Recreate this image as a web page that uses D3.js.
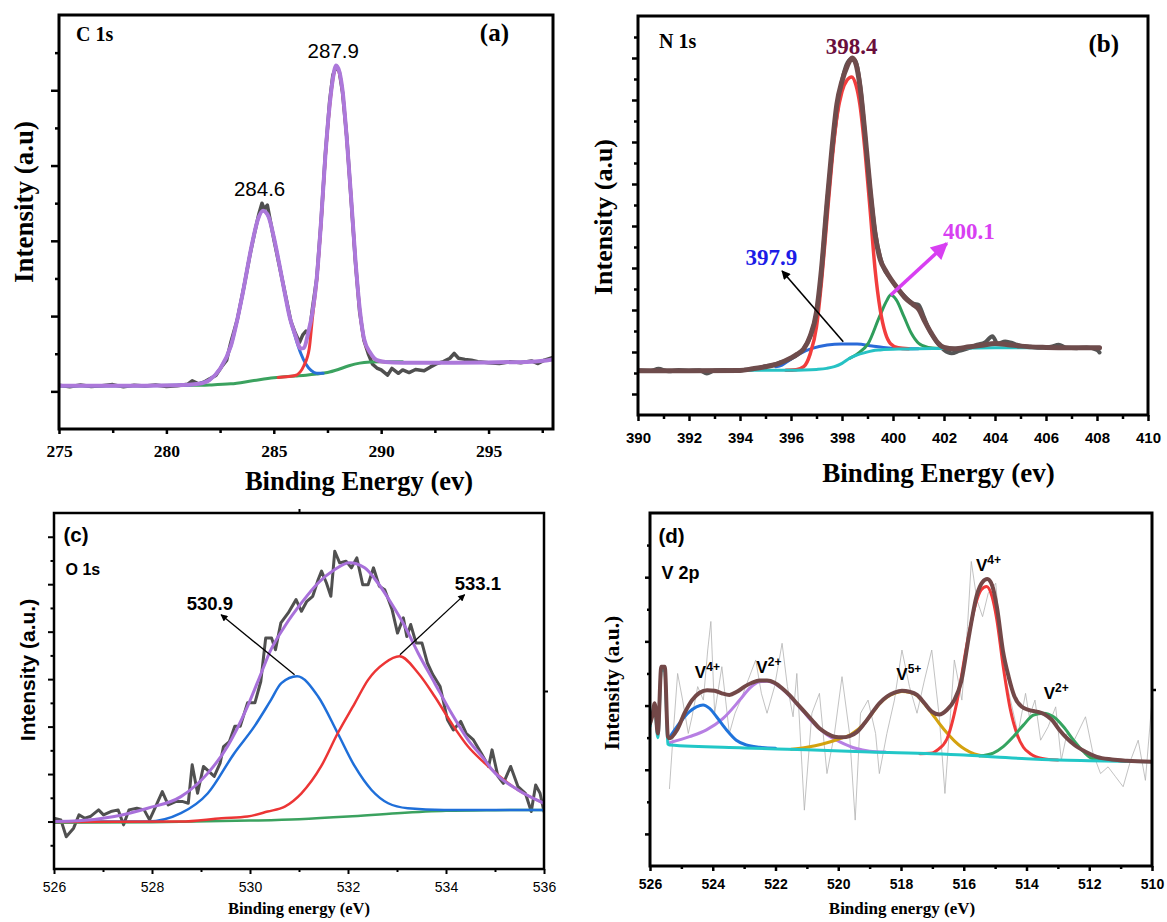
<!DOCTYPE html>
<html>
<head>
<meta charset="utf-8">
<script src="https://cdn.jsdelivr.net/npm/d3@7"></script>
<style>
  body { margin: 0; background: #fff; }
  svg { display: block; }
</style>
</head>
<body>
<svg id="chart" width="1167" height="922"></svg>
<script>
// ---------- (a) C 1s : [binding energy eV, intensity a.u.] ----------
const c1sRaw = [[275,1.16],[275.5,1.12],[276,1.17],[276.5,1.13],[277,1.15],[277.5,1.18],[278,1.12],[278.5,1.16],[279,1.14],[279.5,1.17],[280,1.13],[280.5,1.15],[281,1.19],[281.2,1.28],[281.5,1.2],[281.8,1.26],[282,1.33],[282.3,1.42],[282.6,1.68],[282.8,1.82],[283,2.3],[283.3,2.9],[283.6,3.75],[283.9,4.65],[284.1,5.2],[284.3,5.7],[284.45,6.0],[284.55,5.85],[284.7,5.95],[284.85,5.5],[285,5.05],[285.2,4.5],[285.4,3.95],[285.6,3.4],[285.8,2.85],[286,2.55],[286.2,2.3],[286.35,2.5],[286.5,2.6],[286.65,2.5],[286.8,3.2],[287,4.0],[287.2,5.5],[287.4,7.3],[287.6,8.7],[287.75,9.4],[287.9,9.62],[288.05,9.5],[288.2,8.95],[288.4,7.75],[288.6,6.1],[288.8,4.45],[289,3.1],[289.2,2.35],[289.4,2.0],[289.6,1.72],[289.8,1.62],[290,1.57],[290.3,1.43],[290.5,1.61],[290.8,1.48],[291,1.57],[291.3,1.5],[291.6,1.58],[292,1.55],[292.3,1.65],[292.6,1.74],[292.9,1.79],[293.2,1.88],[293.4,2.01],[293.6,1.88],[293.9,1.85],[294.2,1.83],[294.5,1.79],[295,1.76],[295.5,1.74],[296,1.79],[296.5,1.76],[297,1.81],[297.3,1.74],[297.6,1.83],[298,1.9]];
const c1sFit = [[275,1.15],[277,1.15],[279,1.15],[280.5,1.16],[281.5,1.2],[282,1.3],[282.5,1.6],[283,2.2],[283.5,3.45],[284,4.95],[284.25,5.55],[284.5,5.8],[284.75,5.65],[285,5.1],[285.25,4.4],[285.5,3.65],[285.75,2.95],[286,2.5],[286.25,2.14],[286.4,2.15],[286.6,2.55],[286.8,3.1],[287,4.0],[287.2,5.5],[287.4,7.25],[287.6,8.6],[287.75,9.3],[287.9,9.66],[288.05,9.5],[288.2,9.0],[288.4,7.7],[288.6,6.15],[288.8,4.5],[289,3.2],[289.2,2.4],[289.5,2.02],[289.8,1.83],[290.2,1.78],[291,1.76],[293,1.76],[295,1.77],[297,1.79],[298,1.85]];
const c1sPeakCC = [[275,1.15],[279,1.15],[281,1.17],[281.5,1.2],[282,1.3],[282.5,1.6],[283,2.2],[283.5,3.45],[284,4.95],[284.25,5.55],[284.5,5.8],[284.75,5.65],[285,5.1],[285.25,4.4],[285.5,3.65],[285.75,2.95],[286,2.45],[286.25,2.02],[286.5,1.72],[286.75,1.55],[287,1.48],[287.3,1.48]];
const c1sPeakNC = [[285.2,1.37],[285.6,1.39],[286,1.42],[286.4,1.68],[286.65,2.13],[286.8,2.95],[287,3.95],[287.2,5.45],[287.4,7.2],[287.6,8.55],[287.75,9.28],[287.9,9.62],[288.05,9.47],[288.2,8.97],[288.4,7.68],[288.6,6.13],[288.8,4.48],[289,3.18],[289.2,2.38],[289.5,2.0],[289.8,1.82],[290.2,1.78]];
const c1sBackground = [[275,1.15],[281,1.16],[282,1.17],[283,1.2],[284,1.28],[285,1.36],[285.5,1.39],[286,1.41],[286.5,1.43],[287,1.46],[287.5,1.5],[288,1.58],[288.5,1.68],[289,1.75],[289.5,1.78],[290,1.79],[291,1.79]];

// ---------- (b) N 1s ----------
const n1sRaw = [[390,2.13],[390.5,2.1],[390.8,2.2],[391.2,2.08],[391.6,2.14],[392,2.1],[392.4,2.13],[392.7,1.98],[393,2.12],[393.4,2.14],[393.8,2.1],[394.2,2.15],[394.6,2.2],[395,2.32],[395.3,2.38],[395.6,2.5],[395.9,2.62],[396.2,2.85],[396.5,3.15],[396.8,3.9],[397.1,5.6],[397.4,9.9],[397.7,13.4],[398,15.9],[398.3,16.9],[398.5,16.9],[398.7,15.8],[399,12.0],[399.3,8.7],[399.6,7.1],[399.9,6.5],[400.2,6.0],[400.5,5.6],[400.8,5.3],[401,5.25],[401.2,4.7],[401.4,4.1],[401.6,3.7],[401.8,3.35],[402,3.1],[402.3,2.94],[402.6,3.05],[403,3.2],[403.3,3.35],[403.6,3.45],[403.9,3.75],[404.1,3.4],[404.4,3.5],[404.6,3.45],[405,3.3],[405.4,3.25],[405.8,3.2],[406.2,3.25],[406.5,3.35],[406.8,3.2],[407.2,3.18],[407.6,3.22],[408,3.1],[408.1,2.98]];
const n1sFit = [[390,2.11],[392,2.11],[394,2.12],[394.5,2.2],[395,2.3],[395.5,2.45],[396,2.72],[396.25,2.9],[396.5,3.15],[396.75,3.75],[397,4.9],[397.2,7.0],[397.4,9.9],[397.6,12.6],[397.8,14.8],[398,15.9],[398.2,16.6],[398.4,17.0],[398.55,16.7],[398.7,15.7],[398.9,13.4],[399.1,10.8],[399.3,8.6],[399.5,7.4],[399.7,6.9],[399.9,6.5],[400.2,6.0],[400.5,5.55],[400.8,5.25],[401,5.05],[401.25,4.45],[401.5,3.9],[401.75,3.45],[402,3.22],[402.4,3.15],[403,3.25],[403.5,3.32],[404,3.4],[404.5,3.35],[405,3.28],[406,3.22],[407,3.2],[408.1,3.2]];
const n1sPeak3979 = [[395.4,2.3],[395.65,2.38],[395.95,2.62],[396.39,2.95],[396.83,3.17],[397.42,3.33],[398,3.38],[398.59,3.38],[399.18,3.29],[399.62,3.22],[400.21,3.17],[401,3.16]];
const n1sPeak3984 = [[395.8,2.13],[396.2,2.16],[396.5,2.3],[396.75,2.9],[397,4.2],[397.2,6.4],[397.4,9.2],[397.6,12.0],[397.8,14.2],[398,15.4],[398.2,15.95],[398.38,16.1],[398.55,15.7],[398.7,14.8],[398.9,12.6],[399.1,9.8],[399.3,6.9],[399.5,5.0],[399.7,3.9],[399.9,3.4],[400.2,3.2],[400.6,3.15]];
const n1sPeak4001 = [[398.3,2.7],[398.59,2.9],[399.03,3.41],[399.47,4.68],[399.77,5.48],[399.91,5.71],[400.13,5.48],[400.43,4.68],[400.72,3.89],[401.01,3.41],[401.38,3.22],[401.8,3.17]];
const n1sBackground = [[390,2.12],[396,2.13],[396.5,2.14],[397,2.17],[397.4,2.22],[397.7,2.3],[398,2.46],[398.3,2.7],[398.6,2.86],[398.9,2.97],[399.2,3.06],[399.5,3.1],[400.2,3.14],[401,3.15],[402,3.17],[404,3.2],[406,3.21],[408.1,3.22]];

// ---------- (c) O 1s ----------
const o1sRaw = [[526,2.14],[526.14,2.07],[526.25,1.36],[526.4,1.72],[526.51,2.28],[526.63,2.14],[526.74,2.21],[526.91,2.49],[527.01,2.28],[527.16,2.42],[527.31,2.49],[527.42,1.86],[527.53,2.49],[527.69,2.56],[527.84,2.49],[527.95,2.07],[528.06,2.56],[528.21,3.26],[528.33,2.7],[528.48,2.84],[528.63,2.84],[528.74,2.77],[528.82,4.39],[528.93,3.19],[529.05,4.32],[529.16,4.11],[529.27,3.9],[529.39,4.46],[529.46,5.16],[529.58,5.37],[529.69,6.01],[529.8,6.01],[529.95,7.0],[530.1,7.0],[530.22,7.9],[530.32,9.73],[530.44,9.73],[530.52,9.24],[530.63,10.37],[530.78,10.79],[530.94,11.35],[531.05,10.86],[531.16,11.28],[531.28,11.49],[531.39,12.19],[531.46,12.55],[531.56,12.05],[531.65,11.49],[531.73,13.39],[531.83,12.9],[531.96,12.97],[532.07,12.69],[532.18,13.11],[532.3,11.98],[532.41,11.98],[532.52,12.69],[532.64,11.91],[532.75,11.77],[532.9,10.93],[533.01,9.94],[533.13,10.58],[533.2,9.8],[533.28,10.3],[533.39,9.52],[533.51,9.52],[533.62,8.68],[533.73,8.19],[533.88,7.69],[534.03,6.29],[534.15,5.86],[534.3,6.22],[534.41,5.72],[534.56,5.44],[534.72,4.88],[534.87,4.32],[534.94,5.02],[535.06,3.9],[535.17,3.61],[535.32,4.32],[535.47,3.47],[535.62,3.19],[535.74,2.42],[535.83,3.54],[535.92,3.19],[536,2.42]];
const o1sFit = [[526,2.0],[526.5,2.03],[527.23,2.21],[527.91,2.56],[528.59,3.05],[529.14,4.04],[529.54,5.16],[529.95,6.85],[530.23,8.26],[530.41,9.17],[530.71,10.23],[531.05,11.21],[531.39,12.05],[531.73,12.62],[532.03,12.9],[532.34,12.69],[532.61,12.05],[532.88,11.21],[533.16,10.23],[533.43,9.1],[533.77,7.83],[534.11,6.57],[534.45,5.44],[534.79,4.6],[534.94,4.18],[535.47,3.33],[536,2.77]];
const o1sPeak5309 = [[526,2.0],[527.91,2.0],[528.59,2.35],[529.14,3.19],[529.68,4.88],[530.09,6.01],[530.41,7.06],[530.64,7.83],[530.96,8.12],[531.39,7.27],[531.79,5.72],[532.14,4.32],[532.48,3.33],[532.82,2.77],[533.22,2.56],[533.96,2.49],[536,2.49]];
const o1sPeak5331 = [[526,1.98],[528.59,2.0],[529.42,2.14],[529.95,2.21],[530.36,2.42],[530.71,2.63],[531.05,3.19],[531.45,4.32],[531.79,5.72],[532.14,6.99],[532.41,7.97],[532.75,8.68],[533.05,8.96],[533.43,8.26],[533.77,7.27],[534.11,6.15],[534.45,5.16],[534.79,4.46],[535.47,3.33],[536,2.77]];
const o1sBackground = [[526,1.95],[528,1.97],[530,2.04],[531,2.1],[532,2.21],[533,2.35],[534,2.45],[535,2.48],[536,2.49]];

// ---------- (d) V 2p ----------
const v2pRaw = [[525.38,2.41],[525.26,4.13],[525.12,6.0],[524.96,5.17],[524.78,4.13],[524.66,4.65],[524.48,5.59],[524.3,5.17],[524.16,6.73],[524.06,7.62],[523.94,4.76],[523.71,6.21],[523.47,4.13],[523.29,4.76],[523.11,5.17],[522.87,5.8],[522.63,6.42],[522.45,5.38],[522.27,4.76],[522.03,5.59],[521.79,6.94],[521.62,5.59],[521.44,4.65],[521.32,6.0],[521.08,1.74],[520.84,4.76],[520.6,5.38],[520.36,2.88],[520.12,4.13],[519.88,5.9],[519.64,4.13],[519.46,1.43],[519.29,4.76],[519.05,5.17],[518.81,4.13],[518.69,2.88],[518.45,4.13],[518.21,5.17],[517.97,6.73],[517.73,5.59],[517.49,4.76],[517.25,5.8],[517.02,6.73],[516.78,4.65],[516.6,2.26],[516.42,4.76],[516.3,6.42],[516.06,5.17],[515.88,7.46],[515.76,9.49],[515.58,8.29],[515.4,7.77],[515.22,8.5],[514.98,8.81],[514.75,6.21],[514.51,5.17],[514.27,4.13],[514.03,5.38],[513.91,4.65],[513.73,5.17],[513.55,3.92],[513.31,4.34],[513.07,4.96],[512.89,3.3],[512.71,4.13],[512.48,3.92],[512.12,4.65],[511.88,3.51],[511.64,2.88],[511.4,3.09],[511.16,2.78],[510.92,2.47],[510.68,3.3],[510.44,3.92],[510.21,2.67],[510,5.17]];
const v2pFit = [[526,4.44],[525.92,4.7],[525.85,5.07],[525.75,4.13],[525.64,6.21],[525.53,6.21],[525.43,4.03],[525.38,3.98],[525.14,4.24],[524.9,4.76],[524.66,5.17],[524.42,5.4],[524.18,5.48],[523.94,5.46],[523.71,5.38],[523.47,5.33],[523.23,5.43],[522.99,5.59],[522.75,5.71],[522.51,5.78],[522.27,5.78],[522.03,5.71],[521.79,5.54],[521.56,5.33],[521.32,5.07],[521.08,4.81],[520.84,4.55],[520.6,4.29],[520.36,4.13],[520.12,4.03],[519.88,4.01],[519.64,4.05],[519.4,4.18],[519.17,4.44],[518.93,4.76],[518.69,5.07],[518.45,5.28],[518.21,5.4],[517.97,5.46],[517.73,5.43],[517.49,5.33],[517.25,5.07],[517.02,4.81],[516.78,4.72],[516.54,4.86],[516.3,5.17],[516.08,5.75],[515.82,7.25],[515.58,8.45],[515.4,8.85],[515.25,8.94],[515.1,8.76],[514.94,8.05],[514.75,6.7],[514.57,5.9],[514.39,5.3],[514.15,4.96],[513.91,4.86],[513.67,4.81],[513.43,4.73],[513.19,4.55],[512.95,4.24],[512.71,3.98],[512.47,3.77],[512.12,3.56],[511.76,3.4],[511.28,3.32],[510.8,3.28],[510,3.25]];
const v2pPeakV4a = [[525.38,4.0],[525.06,4.45],[524.74,4.81],[524.52,4.96],[524.31,5.02],[524.1,4.91],[523.88,4.65],[523.56,4.24],[523.25,3.92],[522.93,3.77],[522.5,3.7],[522,3.67]];
const v2pPeakV2a = [[525.38,3.84],[524.74,4.03],[524.2,4.24],[523.67,4.6],[523.14,5.17],[522.82,5.54],[522.51,5.74],[522.27,5.76],[522.03,5.69],[521.79,5.52],[521.56,5.31],[521.32,5.05],[521.08,4.78],[520.84,4.5],[520.6,4.28],[520.37,4.1],[519.95,3.87],[519.42,3.66],[519,3.58],[518.5,3.55]];
const v2pPeakV5 = [[521.5,3.64],[521,3.7],[520.5,3.8],[520,3.95],[519.6,4.1],[519.17,4.44],[518.93,4.74],[518.69,5.05],[518.45,5.26],[518.21,5.38],[517.97,5.44],[517.73,5.41],[517.49,5.31],[517.25,5.05],[517.02,4.76],[516.78,4.44],[516.54,4.15],[516.3,3.9],[516.06,3.7],[515.8,3.55],[515.5,3.45],[515.2,3.41]];
const v2pPeakV4b = [[517.4,3.5],[517,3.52],[516.86,3.6],[516.54,3.95],[516.22,5.1],[515.9,6.9],[515.64,8.1],[515.45,8.6],[515.27,8.71],[515.1,8.4],[514.95,7.7],[514.74,6.2],[514.52,4.9],[514.3,4.1],[514.1,3.7],[513.88,3.5],[513.5,3.35],[513,3.3]];
const v2pPeakV2b = [[515.5,3.43],[515.06,3.52],[514.74,3.72],[514.42,4.03],[514.1,4.39],[513.78,4.7],[513.46,4.76],[513.14,4.65],[512.82,4.34],[512.5,3.92],[512.18,3.56],[511.9,3.35],[511.5,3.3]];
const v2pBackground = [[526,4.35],[525.85,4.95],[525.75,4.0],[525.64,6.1],[525.53,6.1],[525.43,3.8],[525.38,3.77],[523,3.68],[521,3.62],[519,3.55],[517,3.5],[516,3.46],[515,3.4],[514,3.34],[513,3.3],[512,3.28],[510,3.25]];

const SERIF = "'Liberation Serif','Times New Roman',serif";
const SANS = "'Liberation Sans',Arial,sans-serif";

const svg = d3.select("#chart");
const defs = svg.append("defs");

function arrowMarker(id, color, w, h) {
    defs.append("marker")
        .attr("id", id)
        .attr("viewBox", "0 0 10 10")
        .attr("refX", 9).attr("refY", 5)
        .attr("markerUnits", "userSpaceOnUse")
        .attr("markerWidth", w).attr("markerHeight", h)
        .attr("orient", "auto")
        .append("path")
        .attr("d", "M0,0L10,5L0,10z")
        .attr("fill", color);
}
arrowMarker("arrBlack", "#000", 11, 9);
arrowMarker("arrMag", "#d83ff2", 20, 17);
arrowMarker("arrSmall", "#000", 9, 7);

function panel(cfg) {
    const g = svg.append("g");
    const x = d3.scaleLinear().domain(cfg.xDomain).range([cfg.left, cfg.right]);
    const y = d3.scaleLinear().domain(cfg.yDomain).range([cfg.bottom, cfg.top]);

    defs.append("clipPath").attr("id", "clip-" + cfg.id)
        .append("rect")
        .attr("x", cfg.left).attr("y", cfg.top)
        .attr("width", cfg.right - cfg.left).attr("height", cfg.bottom - cfg.top);

    const styleTicks = a => {
        a.select(".domain").remove();
        a.selectAll(".tick line").attr("stroke-width", cfg.tickW);
    };

    // x axis, labelled major ticks
    const xa = g.append("g")
        .attr("transform", `translate(0,${cfg.bottom})`)
        .call(d3.axisBottom(x).tickValues(cfg.xMajor).tickSize(cfg.xTick[0]).tickFormat(d3.format("d")))
        .call(styleTicks)
        .attr("font-family", cfg.tickFont[0])
        .attr("font-size", cfg.tickFont[1])
        .attr("font-weight", cfg.tickFont[2]);
    xa.selectAll("text").attr("y", cfg.tickLabelY).attr("dy", "0").attr("fill", "#000");

    g.append("g")
        .attr("transform", `translate(0,${cfg.bottom})`)
        .call(d3.axisBottom(x).tickValues(cfg.xMinor).tickSize(cfg.xTick[1]).tickFormat(""))
        .call(styleTicks);

    // y axis, unlabelled
    g.append("g")
        .attr("transform", `translate(${cfg.left},0)`)
        .call(d3.axisLeft(y).tickValues(cfg.yMajor).tickSize(cfg.yTick[0]).tickFormat(""))
        .call(styleTicks);
    g.append("g")
        .attr("transform", `translate(${cfg.left},0)`)
        .call(d3.axisLeft(y).tickValues(cfg.yMinor).tickSize(cfg.yTick[1]).tickFormat(""))
        .call(styleTicks);

    if (cfg.rightTick) {
        g.append("g")
            .attr("transform", `translate(${cfg.right},0)`)
            .call(d3.axisRight(y).tickValues(cfg.rightTick).tickSize(4).tickFormat(""))
            .call(styleTicks);
    }
    if (cfg.topTick) {
        g.append("g")
            .attr("transform", `translate(0,${cfg.top})`)
            .call(d3.axisTop(x).tickValues(cfg.topTick).tickSize(4).tickFormat(""))
            .call(styleTicks);
    }

    const plot = g.append("g").attr("clip-path", `url(#clip-${cfg.id})`);
    const frame = () => g.append("rect")
        .attr("x", cfg.left).attr("y", cfg.top)
        .attr("width", cfg.right - cfg.left).attr("height", cfg.bottom - cfg.top)
        .attr("fill", "none").attr("stroke", "#000").attr("stroke-width", cfg.frameW);

    // axis titles
    g.append("text")
        .attr("x", cfg.xTitle.x).attr("y", cfg.xTitle.y)
        .attr("text-anchor", "middle")
        .attr("font-family", cfg.xTitle.font).attr("font-weight", "bold")
        .attr("font-size", cfg.xTitle.size)
        .text(cfg.xTitle.text);
    g.append("text")
        .attr("transform", `translate(${cfg.yTitle.x},${cfg.yTitle.y}) rotate(-90)`)
        .attr("text-anchor", "middle")
        .attr("font-family", cfg.yTitle.font).attr("font-weight", "bold")
        .attr("font-size", cfg.yTitle.size)
        .text(cfg.yTitle.text);

    return { g, plot, x, y, frame };
}

function curve(p, data, color, width, linear) {
    p.plot.append("path")
        .datum(data)
        .attr("fill", "none")
        .attr("stroke", color)
        .attr("stroke-width", width)
        .attr("stroke-linejoin", "round")
        .attr("stroke-linecap", "round")
        .attr("d", d3.line()
            .x(d => p.x(d[0]))
            .y(d => p.y(d[1]))
            .curve(linear ? d3.curveLinear : d3.curveMonotoneX));
}

function text(p, str, x, y, font, size, opts = {}) {
    return p.g.append("text")
        .attr("x", x).attr("y", y)
        .attr("font-family", font)
        .attr("font-weight", opts.weight || "bold")
        .attr("font-size", size)
        .attr("fill", opts.color || "#000")
        .attr("text-anchor", opts.anchor || "start")
        .text(str);
}

function arrow(p, from, to, color, width, marker) {
    p.g.append("line")
        .attr("x1", p.x(from[0])).attr("y1", p.y(from[1]))
        .attr("x2", p.x(to[0])).attr("y2", p.y(to[1]))
        .attr("stroke", color).attr("stroke-width", width)
        .attr("marker-end", `url(#${marker})`);
}

/* ---------------- panel (a) ---------------- */
const pa = panel({
    id: "a", left: 59, right: 553, top: 15, bottom: 429,
    xDomain: [275, 298], yDomain: [0, 11],
    xMajor: [275, 280, 285, 290, 295], xMinor: [277.5, 282.5, 287.5, 292.5, 297.5],
    yMajor: [1, 3, 5, 7, 9], yMinor: [2, 4, 6, 8, 10],
    xTick: [5, 4], yTick: [8, 4], tickW: 2.5, frameW: 3,
    tickFont: [SERIF, 17.5, "bold"], tickLabelY: 28,
    xTitle: { text: "Binding Energy (ev)", x: 359, y: 490, font: SERIF, size: 26.5 },
    yTitle: { text: "Intensity (a.u)", x: 32.5, y: 202, font: SERIF, size: 27 }
});
curve(pa, c1sRaw, "#4f4f4f", 3.5, true);
curve(pa, c1sBackground, "#3ba25f", 3);
curve(pa, c1sPeakCC, "#2870d8", 3);
curve(pa, c1sPeakNC, "#ee3a3a", 3);
curve(pa, c1sFit, "#ac78da", 4);
pa.frame();
text(pa, "C 1s", 76, 41, SERIF, 20);
text(pa, "(a)", 509, 41, SERIF, 25, { anchor: "end" });
text(pa, "287.9", pa.x(287.77), pa.y(9.87), SANS, 20.5, { weight: "normal", anchor: "middle" });
text(pa, "284.6", pa.x(284.34), pa.y(6.19), SANS, 20.5, { weight: "normal", anchor: "middle" });

/* ---------------- panel (b) ---------------- */
const pb = panel({
    id: "b", left: 638, right: 1148, top: 16, bottom: 415,
    xDomain: [390, 410], yDomain: [0, 19],
    xMajor: d3.range(390, 411, 2), xMinor: d3.range(391, 410, 2),
    yMajor: [1, 3, 5, 7, 9, 11, 13, 15, 17], yMinor: [2, 4, 6, 8, 10, 12, 14, 16, 18],
    xTick: [6, 4], yTick: [6, 4], tickW: 2.5, frameW: 3,
    tickFont: [SANS, 15, "bold"], tickLabelY: 27.5,
    xTitle: { text: "Binding Energy (ev)", x: 938.5, y: 482, font: SERIF, size: 27 },
    yTitle: { text: "Intensity (a.u)", x: 612, y: 217, font: SERIF, size: 26 }
});
curve(pb, n1sRaw, "#555555", 4);
curve(pb, n1sPeak3979, "#2a6ad8", 3);
curve(pb, n1sPeak4001, "#2f9d5b", 3);
curve(pb, n1sPeak3984, "#f23d3d", 3.5);
curve(pb, n1sBackground, "#26c2c4", 3);
curve(pb, n1sFit, "#6e4c4c", 5);
pb.frame();
text(pb, "N 1s", 659, 48, SERIF, 20);
text(pb, "(b)", 1119, 52, SERIF, 25, { anchor: "end" });
text(pb, "398.4", pb.x(398.38), pb.y(17.2), SERIF, 23, { anchor: "middle", color: "#6a0e3c" });
text(pb, "397.9", pb.x(395.23), pb.y(7.14), SERIF, 23, { anchor: "middle", color: "#1c1ce6" });
text(pb, "400.1", pb.x(402.98), pb.y(8.36), SERIF, 23, { anchor: "middle", color: "#d83ff2" });
arrow(pb, [398.05, 3.49], [395.65, 6.86], "#000", 1.6, "arrBlack");
arrow(pb, [399.91, 5.71], [402.11, 8.17], "#d83ff2", 3.5, "arrMag");

/* ---------------- panel (c) ---------------- */
const pc = panel({
    id: "c", left: 54, right: 544, top: 513, bottom: 869,
    xDomain: [526, 536], yDomain: [0, 15],
    xMajor: d3.range(526, 537, 2), xMinor: d3.range(527, 536, 2),
    yMajor: [2, 4, 6, 8, 10, 12, 14], yMinor: [1, 3, 5, 7, 9, 11, 13],
    xTick: [5, 3], yTick: [6, 3.5], tickW: 2, frameW: 2.5,
    tickFont: [SANS, 14, "normal"], tickLabelY: 22.7,
    rightTick: [7.5], topTick: [531],
    xTitle: { text: "Binding energy (eV)", x: 299, y: 914, font: SERIF, size: 16.5 },
    yTitle: { text: "Intensity (a.u.)", x: 35, y: 670, font: SANS, size: 21 }
});
curve(pc, o1sRaw, "#505050", 3, true);
curve(pc, o1sBackground, "#3ba25f", 2.5);
curve(pc, o1sPeak5309, "#1f6fd9", 2.5);
curve(pc, o1sPeak5331, "#ec3535", 2.5);
curve(pc, o1sFit, "#a870da", 3);
pc.frame();
text(pc, "(c)", 63.5, 542, SANS, 20.5);
text(pc, "O 1s", 65.5, 575, SANS, 16);
text(pc, "530.9", pc.x(529.18), pc.y(10.92), SANS, 18.5, { anchor: "middle" });
text(pc, "533.1", pc.x(534.65), pc.y(11.77), SANS, 18.5, { anchor: "middle" });
arrow(pc, [530.91, 8.18], [529.41, 10.71], "#000", 1.3, "arrSmall");
arrow(pc, [533.06, 9.03], [534.38, 11.56], "#000", 1.3, "arrSmall");

/* ---------------- panel (d) ---------------- */
const pd = panel({
    id: "d", left: 650, right: 1152, top: 513, bottom: 866,
    xDomain: [526, 510], yDomain: [0, 11],
    xMajor: d3.range(526, 509, -2), xMinor: d3.range(525, 510, -2),
    yMajor: [1, 3, 5, 7, 9], yMinor: [2, 4, 6, 8, 10],
    xTick: [5, 3], yTick: [5, 3], tickW: 2.5, frameW: 3,
    tickFont: [SANS, 14, "bold"], tickLabelY: 22.6,
    rightTick: [5.5],
    xTitle: { text: "Binding energy (eV)", x: 902, y: 914, font: SERIF, size: 17 },
    yTitle: { text: "Intensity (a.u.)", x: 619, y: 683, font: SERIF, size: 21.5 }
});
curve(pd, v2pRaw, "#b3b3b3", 0.8, true);
curve(pd, v2pPeakV2a, "#b77fe3", 3);
curve(pd, v2pPeakV4a, "#1f73db", 3);
curve(pd, v2pPeakV5, "#d4a20f", 3);
curve(pd, v2pPeakV4b, "#f03939", 3);
curve(pd, v2pPeakV2b, "#35a460", 3);
curve(pd, v2pBackground, "#22c7c7", 3);
curve(pd, v2pFit, "#734848", 4);
pd.frame();
text(pd, "(d)", 658.5, 543, SANS, 20.5);
text(pd, "V 2p", 661.5, 579, SANS, 18);

const vLabels = [
    { E: 524.57, I: 5.85, sup: "4+" },
    { E: 522.61, I: 6.0, sup: "2+" },
    { E: 518.15, I: 5.8, sup: "5+" },
    { E: 515.61, I: 9.18, sup: "4+" },
    { E: 513.45, I: 5.2, sup: "2+" }
];
vLabels.forEach(d => {
    const t = text(pd, "V", pd.x(d.E), pd.y(d.I), SANS, 17);
    t.append("tspan").attr("dy", -7).attr("font-size", 12).text(d.sup);
});
</script>
</body>
</html>
